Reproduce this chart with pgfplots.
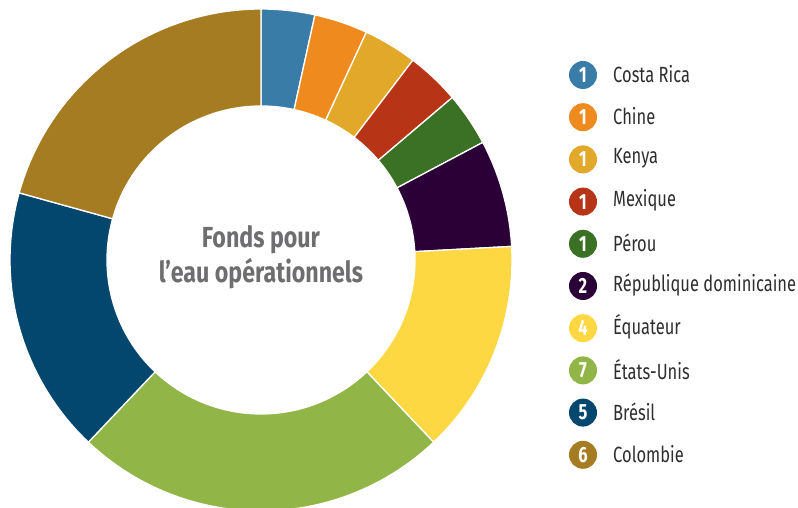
\documentclass[border=0pt]{standalone}
\usepackage{pgfplots}
\pgfplotsset{compat=1.18}
\usepackage{fontspec}
\setmainfont{Fira Sans}[FakeStretch=0.75]
\newfontfamily\titlefont{Fira Sans}[FakeStretch=0.8]
\definecolor{cCR}{HTML}{3A7CA8}
\definecolor{cCH}{HTML}{EE8A1E}
\definecolor{cKE}{HTML}{E2A829}
\definecolor{cME}{HTML}{B73516}
\definecolor{cPE}{HTML}{3B7125}
\definecolor{cRD}{HTML}{2A0036}
\definecolor{cEQ}{HTML}{FDD843}
\definecolor{cEU}{HTML}{91B547}
\definecolor{cBR}{HTML}{03476F}
\definecolor{cCO}{HTML}{A67C23}
\definecolor{ctitle}{HTML}{6E6E70}
\definecolor{ctext}{HTML}{2E2E30}
% #1 cumulative count before slice, #2 value, #3 colour (total 29)
\newcommand{\slice}[3]{%
  \addplot[fill=#3, draw=white, line width=1.3pt, line join=round, domain=0:3, samples=151, variable=\t]
  ({(251-97*min(max(\t-1,0),1))*cos(90-(#1+#2*(min(\t,1)-max(\t-2,0)))*360/29)},
   {(251-97*min(max(\t-1,0),1))*sin(90-(#1+#2*(min(\t,1)-max(\t-2,0)))*360/29)}) -- cycle;
}
\newcommand{\legitem}[4]{% #1 index, #2 colour, #3 number, #4 label
  \fill[#2] (583pt,{433pt-#1*42.2pt}) circle (14pt);
  \node[white, font=\fontsize{22}{22}\selectfont\bfseries] at (583pt,{433pt-#1*42.2pt}) {#3};
  \node[anchor=west, text=ctext, font=\fontsize{22}{22}\selectfont, inner sep=0pt] at (613pt,{434pt-#1*42.2pt}) {#4};
}
\begin{document}
\begin{tikzpicture}[x=1pt,y=1pt]
\useasboundingbox (0,0) rectangle (798,508);
\clip (0,0) rectangle (798,508);
\begin{axis}[at={(261pt,248pt)}, anchor=center, width=502pt, height=502pt, scale only axis,
  xmin=-251, xmax=251, ymin=-251, ymax=251, hide axis, clip=false]
\slice{0}{1}{cCR}
\slice{1}{1}{cCH}
\slice{2}{1}{cKE}
\slice{3}{1}{cME}
\slice{4}{1}{cPE}
\slice{5}{2}{cRD}
\slice{7}{4}{cEQ}
\slice{11}{7}{cEU}
\slice{18}{5}{cBR}
\slice{23}{6}{cCO}
\node[align=center, text=ctitle, font=\titlefont\fontsize{29}{35}\selectfont\bfseries] at (axis cs:0,3) {Fonds pour\\l’eau opérationnels};
\end{axis}
\legitem{0}{cCR}{1}{Costa Rica}
\legitem{1}{cCH}{1}{Chine}
\legitem{2}{cKE}{1}{Kenya}
\legitem{3}{cME}{1}{Mexique}
\legitem{4}{cPE}{1}{Pérou}
\legitem{5}{cRD}{2}{République dominicaine}
\legitem{6}{cEQ}{4}{Équateur}
\legitem{7}{cEU}{7}{États-Unis}
\legitem{8}{cBR}{5}{Brésil}
\legitem{9}{cCO}{6}{Colombie}
\end{tikzpicture}
\end{document}
